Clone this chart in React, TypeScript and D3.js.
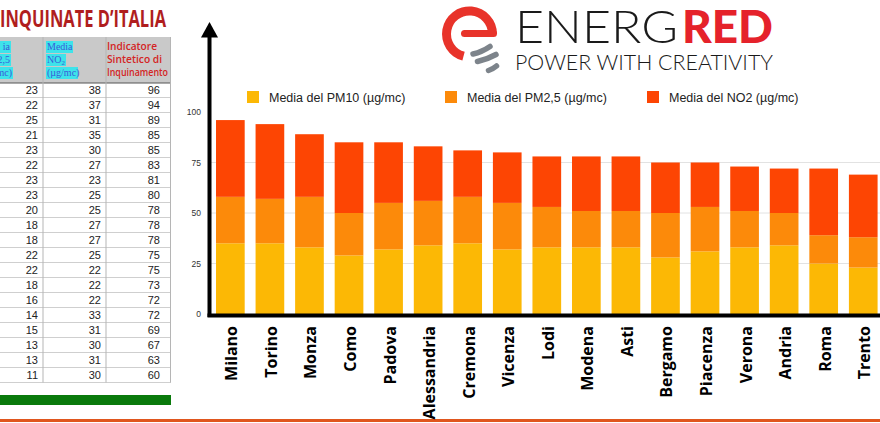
import React from "react";
import * as d3 from "d3";

const cities = ["Milano","Torino","Monza","Como","Padova","Alessandria","Cremona","Vicenza","Lodi","Modena","Asti","Bergamo","Piacenza","Verona","Andria","Roma","Trento"];
const pm10 = [35,35,33,29,32,34,35,32,33,33,33,28,31,33,34,25,23];
const pm25 = [23,22,25,21,23,22,23,23,20,18,18,22,22,18,16,14,15];
const no2 = [38,37,31,35,30,27,23,25,25,27,27,25,22,22,22,33,31];

const seriesKeys = ["pm10","pm25","no2"];
const seriesLabels = ["Media del PM10 (µg/mc)","Media del PM2,5 (µg/mc)","Media del NO2 (µg/mc)"];
const seriesColors = ["#fcb805","#fc8a0a","#fd4503"];
const yTicks = [0,25,50,75,100];
const gridTicks = [25,50,75];

const tablePm25 = [23,22,25,21,23,22,23,23,20,18,18,22,22,18,16,14,15,13,13,11];
const tableNo2 = [38,37,31,35,30,27,23,25,25,27,27,25,22,22,22,33,31,30,31,30];
const tableIsi = [96,94,89,85,85,83,81,80,78,78,78,75,75,73,72,72,69,67,63,60];

export default function App() {
  const W = 880, H = 423;
  const rows = cities.map((c, i) => ({ city: c, pm10: pm10[i], pm25: pm25[i], no2: no2[i] }));
  const stack = d3.stack<any>().keys(seriesKeys)(rows);
  const x = d3.scaleBand<string>().domain(cities).range([210, 883.6]).paddingInner(0.275).paddingOuter(0.152);
  const y = d3.scaleLinear().domain([0, 100]).range([314, 112]);

  const eArc = d3.arc()({ innerRadius: 18.5, outerRadius: 27.5, startAngle: -165 * Math.PI / 180, endAngle: Math.PI / 2, cornerRadius: 4.5 } as any) || "";

  const rowY = (i: number) => 90 + 15 * i;
  const numFont = "'Liberation Sans', Arial, sans-serif";

  return (
    <svg width={W} height={H} style={{ position: "absolute", left: 0, top: 0, background: "#fff" }}>
      <rect x={0} y={0} width={W} height={H} fill="#fff" />
      {/* Table */}
      <text x={0} y={27} fontFamily="'Liberation Sans Narrow','Open Sans',sans-serif" fontWeight="bold" fontSize={23} fill="#b01e1e" textLength={166} lengthAdjust="spacingAndGlyphs">INQUINATE D’ITALIA</text>
      <rect x={0} y={37} width={171} height={46} fill="#c9c9c9" />
      {/* col1 partial header */}
      {["ia", "2,5", "mc)"].map((t, i) => (
        <g key={"h1" + i}>
          <rect x={0} y={41 + i * 13} width={i === 2 ? 13 : 11} height={12} fill="#3ee3ea" />
          <text x={i === 2 ? 12 : 10} y={50 + i * 13} textAnchor="end" fontFamily="'Liberation Serif', serif" fontSize={10} fill="#3a5ad8">{t}</text>
        </g>
      ))}
      {["Media", "NO", "(µg/mc)"].map((t, i) => (
        <g key={"h2" + i}>
          <rect x={46} y={41 + i * 13} width={i === 0 ? 27 : i === 1 ? 20 : 32} height={12} fill="#3ee3ea" />
          <text x={47} y={50 + i * 13} fontFamily="'Liberation Serif', serif" fontSize={10} fill="#3a5ad8">{t}{i === 1 ? <tspan fontSize={7} dy={2}>2</tspan> : null}</text>
        </g>
      ))}
      {["Indicatore", "Sintetico di", "Inquinamento"].map((t, i) => (
        <text key={"h3" + i} x={107} y={50 + i * 13} fontFamily="'Open Sans', sans-serif" fontWeight={600} fontSize={10} fill="#d42424" textLength={i === 0 ? 50 : i === 1 ? 55 : 61} lengthAdjust="spacingAndGlyphs">{t}</text>
      ))}
      <line x1={0} x2={171} y1={83} y2={83} stroke="#555" strokeWidth={1} />
      {tablePm25.map((_, i) => (
        <line key={"hl" + i} x1={0} x2={171} y1={rowY(i) + 7.5} y2={rowY(i) + 7.5} stroke="#cfcfcf" strokeWidth={1} />
      ))}
      {[43, 106, 170.5].map((vx) => (
        <line key={"vl" + vx} x1={vx} x2={vx} y1={37} y2={382.5} stroke="#b5b5b5" strokeWidth={1} />
      ))}
      {tablePm25.map((v, i) => (
        <g key={"tr" + i} fontFamily={numFont} fontSize={11} fill="#222" textAnchor="end">
          <text x={38} y={rowY(i) + 4}>{v}</text>
          <text x={101} y={rowY(i) + 4}>{tableNo2[i]}</text>
          <text x={160} y={rowY(i) + 4}>{tableIsi[i]}</text>
        </g>
      ))}
      <rect x={0} y={395} width={171} height={10} fill="#0a7a0c" />
      <rect x={0} y={419} width={W} height={3} fill="#e0561e" />

      {/* Logo */}
      <g transform="translate(469.5,34)">
        <path d={eArc} fill="#e8332a" />
      </g>
      <rect x={461} y={30} width={36} height={7} rx={3.5} fill="#e8332a" />
      <g stroke="#7d848b" strokeWidth={5.5} strokeLinecap="round" fill="none">
        <path d="M473,54 Q482,52 490,46.5" />
        <path d="M477.5,61.5 Q488,59 496,54.5" />
        <path d="M488.5,70.5 Q493,69 496.5,66" />
      </g>
      <text x={515} y={43} fontFamily="Lato, 'Open Sans', sans-serif" fontWeight={300} fontSize={46} fill="#1a1a1a" textLength={163} lengthAdjust="spacingAndGlyphs">ENERG</text>
      <text x={682} y={43} fontFamily="Lato, 'Open Sans', sans-serif" fontWeight={900} fontSize={46} fill="#e5222b" textLength={91} lengthAdjust="spacingAndGlyphs">RED</text>
      <text x={515} y={70} fontFamily="Lato, 'Open Sans', sans-serif" fontWeight={300} fontSize={22} fill="#1a1a1a" textLength={258} lengthAdjust="spacingAndGlyphs">POWER WITH CREATIVITY</text>

      {/* Legend */}
      {seriesLabels.map((l, i) => {
        const lx = [247, 445, 647][i];
        return (
          <g key={"lg" + i}>
            <rect x={lx} y={91} width={12} height={12} fill={seriesColors[i]} />
            <text x={lx + 22} y={101.5} fontFamily={numFont} fontSize={12.5} fill="#222">{l}</text>
          </g>
        );
      })}

      {/* Grid */}
      {gridTicks.map((t) => (
        <line key={"g" + t} x1={210} x2={W} y1={y(t)} y2={y(t)} stroke="#e2e2e2" strokeWidth={1} />
      ))}
      {yTicks.map((t) => (
        <text key={"t" + t} x={201} y={y(t) + 3} textAnchor="end" fontFamily={numFont} fontSize={8.5} fill="#333">{t}</text>
      ))}

      {/* Bars */}
      {stack.map((s, si) => (
        <g key={"s" + si} fill={seriesColors[si]}>
          {s.map((d: any, i: number) => (
            <rect key={i} x={x(cities[i])} y={y(d[1])} width={x.bandwidth()} height={y(d[0]) - y(d[1])} />
          ))}
        </g>
      ))}

      {/* Axes */}
      <line x1={209.5} x2={209.5} y1={34} y2={317} stroke="#000" strokeWidth={4} />
      <line x1={207.5} x2={W} y1={315.5} y2={315.5} stroke="#000" strokeWidth={4} />
      <path d="M209.5,22 L218,37.5 L201,37.5 Z" fill="#000" />

      {cities.map((c) => (
        <text key={"xl" + c} transform={`translate(${(x(c) as number) + x.bandwidth() / 2 + 7},326) rotate(-90)`} textAnchor="end" fontFamily="'Open Sans', sans-serif" fontWeight={700} fontSize={16} fill="#000">{c}</text>
      ))}
    </svg>
  );
}
